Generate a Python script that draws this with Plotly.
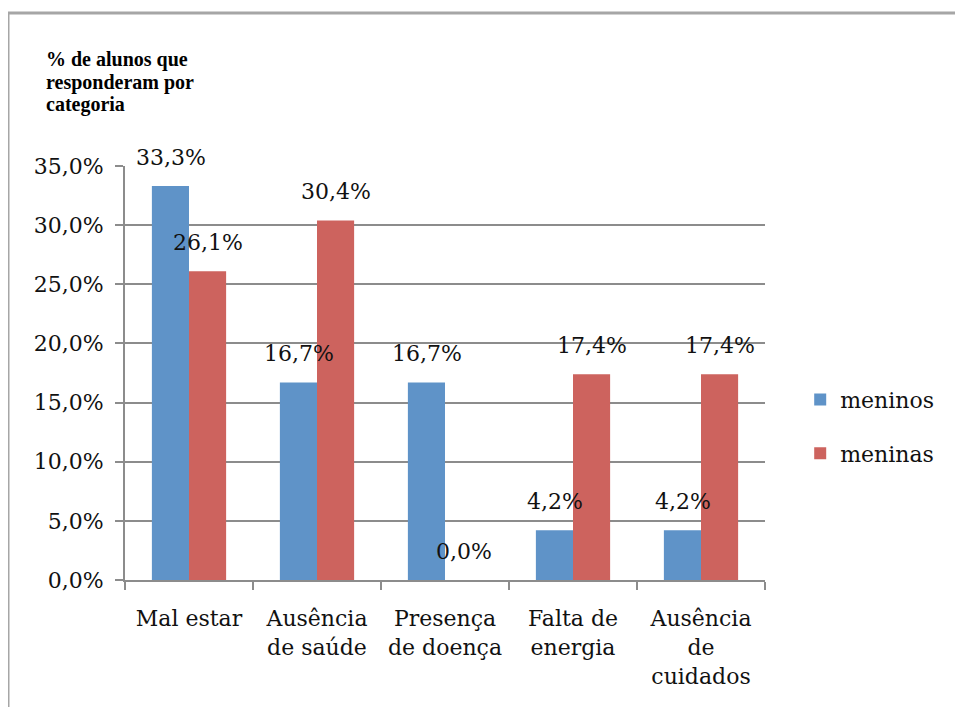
import plotly.graph_objects as go

categories = ["Mal estar", "Ausência<br>de saúde", "Presença<br>de doença", "Falta de<br>energia", "Ausência<br>de<br>cuidados"]
meninos = [33.3, 16.7, 16.7, 4.2, 4.2]
meninas = [26.1, 30.4, 0.0, 17.4, 17.4]
series_names = ["meninos", "meninas"]
colors = ["#5F93C8", "#CD635E"]
y_ticks = [0, 5, 10, 15, 20, 25, 30, 35]
y_ticktext = [f"{v:.1f}".replace(".", ",") + "%" for v in y_ticks]

FONT = "DejaVu Serif"
OFF = 8  # page body margin
L, R, T, B = 125 - OFF, 765 - OFF, 166 - OFF, 580 - OFF
W, H = 963, 707
PW, PH = R - L, B - T

def px(x):
    return (x - OFF - L) / PW

def py(y):
    return (B - (y - OFF)) / PH

fig = go.Figure()
for name, vals, col in zip(series_names, [meninos, meninas], colors):
    fig.add_trace(go.Bar(
        x=categories, y=vals, name=name, marker_color=col,
        marker_line_width=0, legendgroup=name,
    ))

bar_px = 37
for vals, sign in zip([meninos, meninas], [-1, 1]):
    for c, v in zip(categories, vals):
        fig.add_annotation(
            x=c, y=v, text=f"{v:.1f}".replace(".", ",") + "%",
            showarrow=False, xshift=sign * bar_px / 2, yshift=29,
            yanchor="middle", font=dict(family=FONT, size=22, color="#111111"),
        )

title_lines = ["% de alunos que", "responderam por", "categoria"]
for i, t in enumerate(title_lines):
    fig.add_annotation(
        xref="paper", yref="paper", x=px(44), y=py(60 + 22 * i),
        text=f"<b>{t}</b>", showarrow=False, xanchor="left", yanchor="middle",
        font=dict(family="Liberation Serif", size=20, color="#000000"),
    )

# outer border (top and left)
fig.add_shape(type="line", xref="paper", yref="paper",
              x0=px(8), x1=px(980), y0=py(13), y1=py(13),
              line=dict(color="#A6A6A6", width=3))
fig.add_shape(type="line", xref="paper", yref="paper",
              x0=px(8), x1=px(8), y0=py(13), y1=py(720),
              line=dict(color="#A6A6A6", width=3))

fig.update_layout(
    width=W, height=H,
    margin=dict(l=L, r=W - R, t=T, b=H - B),
    paper_bgcolor="white", plot_bgcolor="white",
    separators=",.",
    bargap=0.42, bargroupgap=0,
    barmode="group",
    font=dict(family=FONT, size=22, color="#111111"),
    legend=dict(x=1.055, y=0.37, xanchor="left", yanchor="middle",
                font=dict(family=FONT, size=22), tracegroupgap=22,
                itemwidth=30, bgcolor="rgba(0,0,0,0)"),
    showlegend=True,
)
fig.update_xaxes(
    showline=True, linecolor="#8C8C8C", linewidth=2,
    ticks="outside", tickson="boundaries", ticklen=8, tickcolor="#8C8C8C", tickwidth=2,
    showgrid=False, tickfont=dict(family=FONT, size=22, color="#111111"),
    ticklabelstandoff=18,
)
fig.update_yaxes(
    range=[0, 35], tickvals=y_ticks, ticktext=y_ticktext,
    showline=True, linecolor="#8C8C8C", linewidth=2,
    ticks="outside", ticklen=8, tickcolor="#8C8C8C", tickwidth=2,
    showgrid=True, gridcolor="#8C8C8C", gridwidth=2,
    zeroline=False, tickfont=dict(family=FONT, size=22, color="#111111"),
    ticklabelstandoff=7,
)

fig.write_html("out.html")
